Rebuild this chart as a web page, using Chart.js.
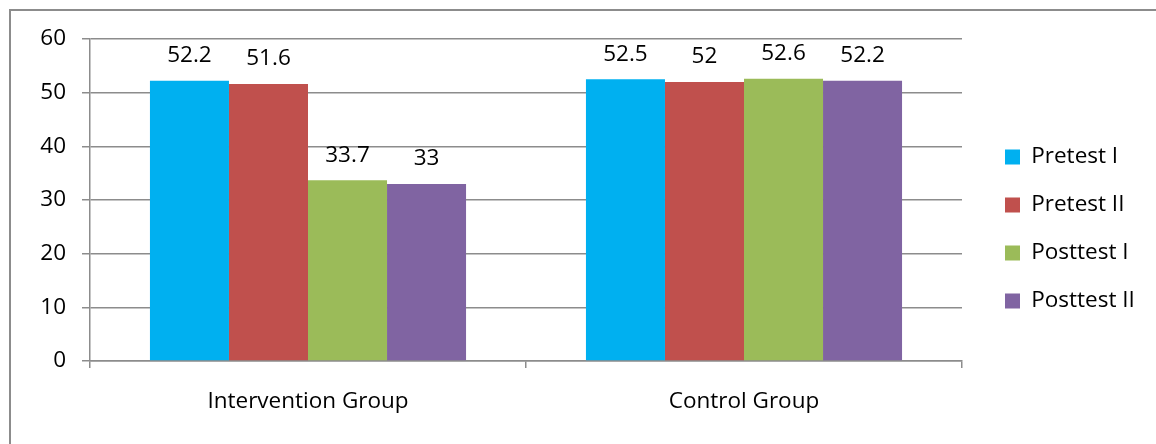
<!DOCTYPE html>
<html>
<head>
<meta charset="utf-8">
<script src="https://cdn.jsdelivr.net/npm/chart.js@4.4.1/dist/chart.umd.min.js"></script>
<style>
  html, body { margin: 0; padding: 0; background: #fff; overflow: hidden; }
  #wrap { position: relative; width: 1156px; height: 444px; }
  #frame { position: absolute; left: 9px; top: 9px; width: 1300px; height: 600px; border: 2px solid #8c8c8c; box-sizing: border-box; }
  #c { position: absolute; left: 0; top: 0; }
</style>
</head>
<body>
<div id="wrap">
  <div id="frame"></div>
  <canvas id="c" width="1156" height="444"></canvas>
</div>
<script>
const categories = ["Intervention Group", "Control Group"];
const seriesNames = ["Pretest I", "Pretest II", "Posttest I", "Posttest II"];
const pretestI = [52.2, 52.5];
const pretestII = [51.6, 52];
const posttestI = [33.7, 52.6];
const posttestII = [33, 52.2];
const seriesColors = ["#00B0F0", "#C0504D", "#9BBB59", "#8064A2"];
const yTicks = [0, 10, 20, 30, 40, 50, 60];

const FONT = "'Open Sans'";
const FS = 22.5;
const gridColor = "#8c8c8c";

const mctx = document.createElement("canvas").getContext("2d");
mctx.font = FS + "px " + FONT;
const maxText = Math.max(...seriesNames.map(s => mctx.measureText(s).width));
const legPad = 25.5, boxW = 15;
const legendWidth = 10 + legPad + boxW + FS / 2 + maxText;
const plotRight = 962, gap = 17.5;
const padRight = Math.max(0, 1156 - (plotRight + gap + legendWidth));

const valueLabels = {
  id: "valueLabels",
  afterDatasetsDraw(chart) {
    const ctx = chart.ctx;
    ctx.save();
    ctx.font = FS + "px " + FONT;
    ctx.fillStyle = "#000";
    ctx.textAlign = "center";
    ctx.textBaseline = "middle";
    chart.data.datasets.forEach((ds, i) => {
      chart.getDatasetMeta(i).data.forEach((bar, j) => {
        ctx.fillText(String(ds.data[j]), bar.x, bar.y - 25);
      });
    });
    ctx.restore();
  }
};

const allSeries = [pretestI, pretestII, posttestI, posttestII];

new Chart(document.getElementById("c"), {
  type: "bar",
  data: {
    labels: categories,
    datasets: allSeries.map((d, i) => ({
      label: seriesNames[i],
      data: d,
      backgroundColor: seriesColors[i],
      borderWidth: 0,
      categoryPercentage: 0.725,
      barPercentage: 1.0,
      yAxisID: "y"
    }))
  },
  options: {
    responsive: false,
    animation: false,
    devicePixelRatio: 1,
    layout: { padding: { left: 0, top: 39, bottom: 25, right: padRight } },
    plugins: {
      tooltip: { enabled: false },
      legend: {
        position: "right",
        align: "center",
        labels: {
          font: { family: FONT, size: FS },
          color: "#000",
          boxWidth: boxW,
          boxHeight: 15,
          padding: legPad
        }
      }
    },
    scales: {
      x: {
        grid: { display: true, drawOnChartArea: false, drawTicks: true, tickLength: 7, color: gridColor, lineWidth: 1.5 },
        border: { display: true, color: gridColor, width: 1.5 },
        ticks: { font: { family: FONT, size: FS }, color: "#000", padding: 20 },
        afterFit(scale) { scale.height = 58; }
      },
      y: {
        min: 0, max: 60,
        afterBuildTicks(scale) { scale.ticks = yTicks.map(v => ({ value: v })); },
        grid: { color: gridColor, lineWidth: 1.5, tickLength: 8 },
        border: { display: true, color: gridColor, width: 1.5 },
        ticks: { font: { family: FONT, size: FS }, color: "#000", padding: 16 },
        afterFit(scale) { scale.width = 90; }
      },
      y2: {
        position: "right",
        display: true,
        grid: { display: false },
        border: { display: false },
        ticks: { display: false },
        afterFit(scale) { scale.width = gap; }
      }
    }
  },
  plugins: [valueLabels]
});
</script>
</body>
</html>
